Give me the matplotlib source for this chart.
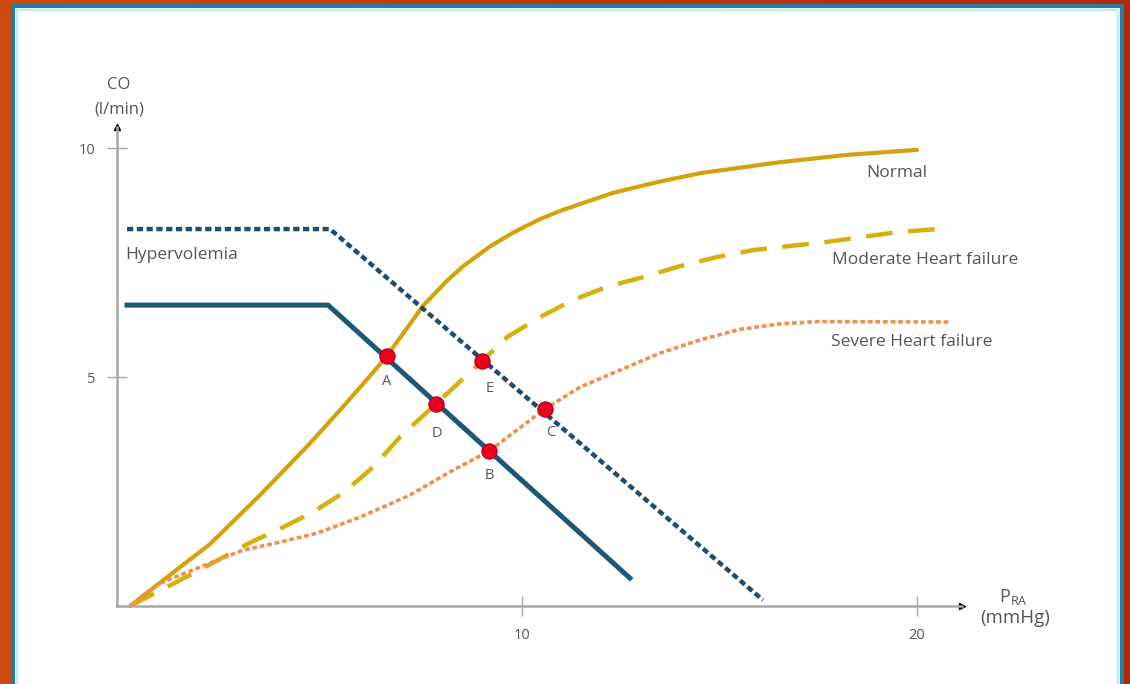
import numpy as np
import matplotlib
matplotlib.use("Agg")
import matplotlib.pyplot as plt
from matplotlib.patches import Rectangle

plt.rcParams['font.family'] = ['Open Sans', 'DejaVu Sans']

# Kардиак гаралтын муруйнууд (P_RA, CO)
normal_x = [0.08, 1.09, 2.10, 3.40, 4.63, 5.50, 6.15, 6.58, 7.05, 7.49, 8.10, 8.51, 9.19, 9.77,
            10.46, 11.04, 12.30, 13.40, 14.51, 16.53, 18.23, 20.0]
normal_y = [0.0, 0.68, 1.35, 2.45, 3.55, 4.38, 5.02, 5.46, 6.02, 6.55, 7.10, 7.42, 7.85, 8.15,
            8.45, 8.65, 9.02, 9.25, 9.45, 9.69, 9.85, 9.96]

moderate_x = [0.08, 1.85, 3.11, 3.95, 4.71, 5.47, 6.23, 6.91, 7.82, 8.99, 9.62, 10.46, 11.29,
              12.15, 13.06, 14.0, 14.94, 15.85, 16.78, 17.72, 18.63, 19.57, 20.84]
moderate_y = [0.0, 0.79, 1.38, 1.72, 2.05, 2.47, 3.03, 3.69, 4.41, 5.35, 5.87, 6.31, 6.68,
              6.97, 7.18, 7.42, 7.62, 7.77, 7.86, 7.95, 8.06, 8.17, 8.25]

severe_x = [0.08, 0.84, 1.85, 2.94, 3.80, 4.81, 5.90, 7.16, 8.18, 9.16, 10.58, 11.47, 12.48,
            13.49, 14.51, 15.52, 16.53, 17.47, 20.84]
severe_y = [0.0, 0.50, 0.85, 1.22, 1.38, 1.59, 1.94, 2.42, 2.93, 3.38, 4.30, 4.78, 5.15,
            5.52, 5.81, 6.04, 6.16, 6.21, 6.20]

# Венийн буцах урсгалын муруйнууд
venous_x = [0.0, 5.09, 12.73]
venous_y = [6.57, 6.57, 0.61]
hyper_x = [0.0, 5.14, 16.1]
hyper_y = [8.23, 8.23, 0.13]

# Тэнцвэрийн цэгүүд
pt_labels = ['A', 'E', 'D', 'C', 'B']
pt_x = [6.58, 8.99, 7.82, 10.58, 9.16]
pt_y = [5.46, 5.35, 4.41, 4.30, 3.38]
lbl_dx = [0.0, 0.2, 0.03, 0.15, 0.0]
lbl_dy = [-0.55, -0.61, -0.65, -0.52, -0.54]

W, H = 1130, 684
fig = plt.figure(figsize=(W / 100, H / 100), dpi=100)

# Улбар шар дэвсгэр
bg = fig.add_axes([0, 0, 1, 1], zorder=-10)
grad = np.linspace(0, 1, 256).reshape(1, -1)
bg.imshow(grad, aspect='auto', extent=[0, 1, 0, 1],
          cmap=matplotlib.colors.LinearSegmentedColormap.from_list('o', ['#CF4A0E', '#B2290A']))
bg.set_xlim(0, 1); bg.set_ylim(0, 1); bg.axis('off')
bg.add_patch(Rectangle((13 / W, -0.02), (1122 - 13) / W, (684 - 6) / H + 0.02,
                       facecolor='white', edgecolor='#2A7C9C', linewidth=3))
bg.add_patch(Rectangle((17 / W, -0.02), (1118 - 17) / W, (684 - 10) / H + 0.02,
                       facecolor='none', edgecolor='#B8F0FA', linewidth=1.5))

# Үндсэн тэнхлэг
px_x0, px_sx = 127, 39.5
px_y0, px_sy = 606, 45.8
xmin, xmax = -0.5, 22.0
ymin, ymax = -0.5, 11.0
left = (px_x0 + xmin * px_sx) / W
right = (px_x0 + xmax * px_sx) / W
bottom = (H - (px_y0 - ymin * px_sy)) / H
top = (H - (px_y0 - ymax * px_sy)) / H
ax = fig.add_axes([left, bottom, right - left, top - bottom])
ax.set_xlim(xmin, xmax)
ax.set_ylim(ymin, ymax)
ax.patch.set_alpha(0)

for s in ['top', 'right']:
    ax.spines[s].set_visible(False)
ax.spines['left'].set_position(('data', -0.25))
ax.spines['bottom'].set_position(('data', 0))
ax.spines['left'].set_bounds(0, 10.45)
ax.spines['bottom'].set_bounds(-0.25, 21.15)
for s in ['left', 'bottom']:
    ax.spines[s].set_color('#A8A8A8')
    ax.spines[s].set_linewidth(1.8)
ax.plot([-0.25], [10.45], marker='^', color='black', markersize=4, clip_on=False)
ax.plot([21.15], [0], marker='>', color='black', markersize=4, clip_on=False)

ax.set_xticks([10, 20])
ax.set_xticklabels(['10', '20'])
ax.set_yticks([5, 10])
ax.set_yticklabels(['5', '10'])
ax.tick_params(axis='both', direction='inout', length=15, width=1, color='#A8A8A8',
               labelsize=10.5, labelcolor='#555555')
ax.tick_params(axis='x', pad=8)
ax.tick_params(axis='y', pad=8)

# Муруйнууд
ax.plot(normal_x, normal_y, color='#D4A20A', linewidth=3, solid_capstyle='round',
        solid_joinstyle='round')
ax.plot(moderate_x, moderate_y, color='#D6B00C', linewidth=3.2, dashes=(6, 3.5))
ax.plot(severe_x, severe_y, color='#F0904E', linewidth=2.6, dashes=(1.3, 0.8))
ax.plot(venous_x, venous_y, color='#1D5876', linewidth=3.6)
ax.plot(hyper_x, hyper_y, color='#1E4E6C', linewidth=3.2, dashes=(1.4, 0.8))

ax.plot(pt_x, pt_y, linestyle='none', marker='o', markersize=11,
        markerfacecolor='#E8001E', markeredgecolor='#B5001A', markeredgewidth=0.8, zorder=5)
for lab, x, y, dx, dy in zip(pt_labels, pt_x, pt_y, lbl_dx, lbl_dy):
    ax.text(x + dx, y + dy, lab, ha='center', va='center', fontsize=10.5, color='#555555')

# Бичвэрүүд
txt = dict(fontsize=12.5, color='#555555', va='center')
ax.text(19.49, 9.45, 'Normal', ha='center', **txt)
ax.text(20.2, 7.55, 'Moderate Heart failure', ha='center', **txt)
ax.text(19.87, 5.76, 'Severe Heart failure', ha='center', **txt)
ax.text(-0.05, 7.66, 'Hypervolemia', ha='left', **txt)
small = dict(fontsize=12, color='#555555', va='center', clip_on=False)
ax.text(-0.2, 11.38, 'CO', ha='center', **small)
ax.text(-0.2, 10.84, '(l/min)', ha='center', **small)
ax.text(22.43, 0.2, r'P$_{\mathregular{RA}}$', ha='center', fontsize=13, color='#555555',
        va='center', clip_on=False)
ax.text(22.48, -0.26, '(mmHg)', ha='center', fontsize=13.5, color='#555555', va='center',
        clip_on=False)

fig.savefig('out.png', dpi=100)
